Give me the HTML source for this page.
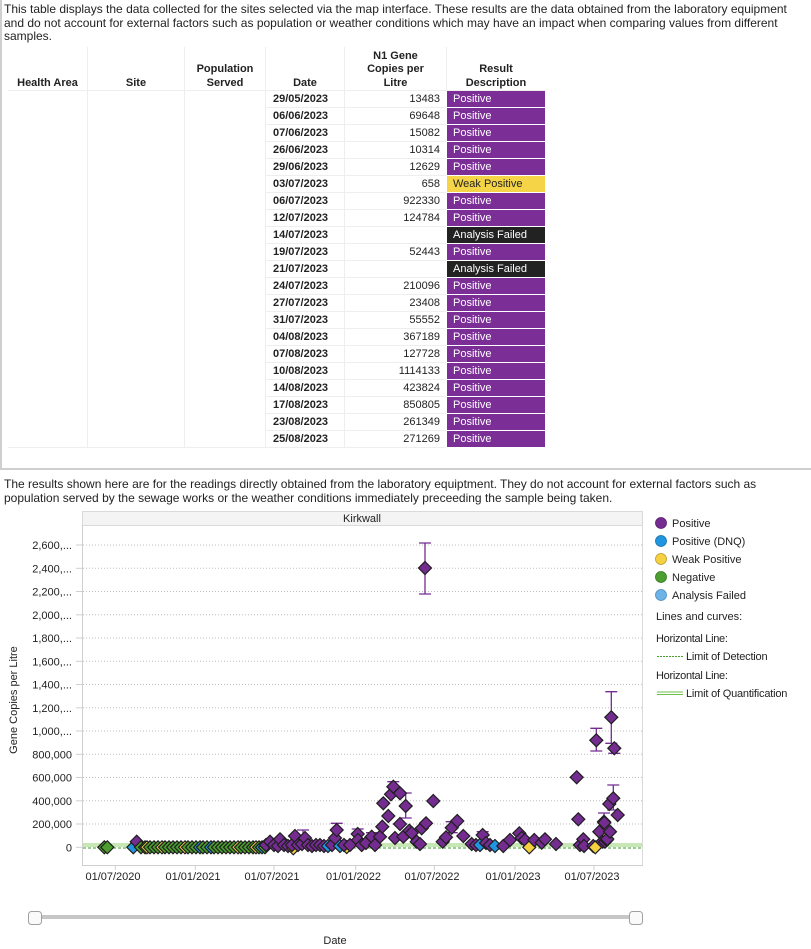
<!DOCTYPE html>
<html><head><meta charset="utf-8">
<style>
*{box-sizing:content-box}
html,body{margin:0;padding:0;background:#fff}
body{width:811px;height:949px;overflow:hidden;position:relative;font-family:"Liberation Sans",Arial,sans-serif;color:#222}
.p{position:absolute;font-size:12px;line-height:13.5px;color:#222}
.panel{position:absolute;left:0;top:0;width:811px;height:470px;border-left:2px solid #cfcfcf;border-bottom:2px solid #cfcfcf;box-sizing:border-box}
table{position:absolute;left:8px;top:47px;border-collapse:separate;border-spacing:0;table-layout:fixed;width:537px;font-size:11px}
th{font-weight:bold;line-height:13.5px;vertical-align:bottom;padding:0 2px 0;text-align:center;border-left:1px solid #eee;border-bottom:1px solid #eee;height:43px}
th.f{border-left:none}
td{height:16px;padding:0;line-height:16px;border-bottom:1px solid #eee;border-left:1px solid #eee;white-space:nowrap}
td.f{border-left:none}
td.d{font-weight:bold;padding-left:7px}
td.n{text-align:right;padding-right:6px}
td.r{background:#7a2e96;color:#fff;border-bottom:1px solid #fff;border-left:1px solid #fff;padding-left:6px}
td.w{background:#f5d547;color:#222;border-bottom:1px solid #fff;border-left:1px solid #fff;padding-left:6px}
td.a{background:#222;color:#fff;border-bottom:1px solid #fff;border-left:1px solid #fff;padding-left:6px}
svg{position:absolute;left:0;top:0}
svg text{font-family:"Liberation Sans",Arial,sans-serif;font-size:11px;fill:#222}
.g{fill:#4c9f2e}.y{fill:#f5d142}.b{fill:#2196e0}.u{fill:#742c90}
</style></head><body>
<div class="panel"></div>
<div class="p" style="left:4px;top:3px;width:806px">This table displays the data collected for the sites selected via the map interface. These results are the data obtained from the laboratory equipment and do not account for external factors such as population or weather conditions which may have an impact when comparing values from different samples.</div>

<table>
<colgroup><col style="width:79px"><col style="width:97px"><col style="width:81px"><col style="width:79px"><col style="width:102px"><col style="width:99px"></colgroup>
<tr><th class="f">Health Area</th><th>Site</th><th>Population<br>Served</th><th>Date</th><th>N1 Gene<br>Copies per<br>Litre</th><th>Result<br>Description</th></tr>
<tr><td class="f" rowspan="21"></td><td rowspan="21"></td><td rowspan="21"></td><td class="d">29/05/2023</td><td class="n">13483</td><td class="r">Positive</td></tr>
<tr><td class="d">06/06/2023</td><td class="n">69648</td><td class="r">Positive</td></tr>
<tr><td class="d">07/06/2023</td><td class="n">15082</td><td class="r">Positive</td></tr>
<tr><td class="d">26/06/2023</td><td class="n">10314</td><td class="r">Positive</td></tr>
<tr><td class="d">29/06/2023</td><td class="n">12629</td><td class="r">Positive</td></tr>
<tr><td class="d">03/07/2023</td><td class="n">658</td><td class="w">Weak Positive</td></tr>
<tr><td class="d">06/07/2023</td><td class="n">922330</td><td class="r">Positive</td></tr>
<tr><td class="d">12/07/2023</td><td class="n">124784</td><td class="r">Positive</td></tr>
<tr><td class="d">14/07/2023</td><td class="n"></td><td class="a">Analysis Failed</td></tr>
<tr><td class="d">19/07/2023</td><td class="n">52443</td><td class="r">Positive</td></tr>
<tr><td class="d">21/07/2023</td><td class="n"></td><td class="a">Analysis Failed</td></tr>
<tr><td class="d">24/07/2023</td><td class="n">210096</td><td class="r">Positive</td></tr>
<tr><td class="d">27/07/2023</td><td class="n">23408</td><td class="r">Positive</td></tr>
<tr><td class="d">31/07/2023</td><td class="n">55552</td><td class="r">Positive</td></tr>
<tr><td class="d">04/08/2023</td><td class="n">367189</td><td class="r">Positive</td></tr>
<tr><td class="d">07/08/2023</td><td class="n">127728</td><td class="r">Positive</td></tr>
<tr><td class="d">10/08/2023</td><td class="n">1114133</td><td class="r">Positive</td></tr>
<tr><td class="d">14/08/2023</td><td class="n">423824</td><td class="r">Positive</td></tr>
<tr><td class="d">17/08/2023</td><td class="n">850805</td><td class="r">Positive</td></tr>
<tr><td class="d">23/08/2023</td><td class="n">261349</td><td class="r">Positive</td></tr>
<tr><td class="d">25/08/2023</td><td class="n">271269</td><td class="r">Positive</td></tr>
</table>

<div class="p" style="left:4px;top:477px;width:806px;line-height:14px">The results shown here are for the readings directly obtained from the laboratory equiptment. They do not account for external factors such as population served by the sewage works or the weather conditions immediately preceeding the sample being taken.</div>

<svg width="811" height="949" viewBox="0 0 811 949">
<defs>
<path id="d" d="M0-6.5 6.5 0 0 6.5-6.5 0Z" stroke="#1e1e1e" stroke-width="1.2"/>
</defs>
<rect x="82.5" y="511.5" width="560" height="14" fill="#f4f4f4" stroke="#dadada"/>
<text x="362" y="522" text-anchor="middle">Kirkwall</text>
<line x1="82.5" y1="525" x2="82.5" y2="865.5" stroke="#cfcfcf"/>
<line x1="642.5" y1="525" x2="642.5" y2="865.5" stroke="#dadada"/>
<line x1="82" y1="865.5" x2="643" y2="865.5" stroke="#cfcfcf"/>
<g stroke="#bdbdbd" stroke-dasharray="1,2">
<line x1="83" y1="545" x2="642" y2="545"/><line x1="83" y1="568.3" x2="642" y2="568.3"/>
<line x1="83" y1="591.5" x2="642" y2="591.5"/><line x1="83" y1="614.8" x2="642" y2="614.8"/>
<line x1="83" y1="638" x2="642" y2="638"/><line x1="83" y1="661.3" x2="642" y2="661.3"/>
<line x1="83" y1="684.5" x2="642" y2="684.5"/><line x1="83" y1="707.8" x2="642" y2="707.8"/>
<line x1="83" y1="731" x2="642" y2="731"/><line x1="83" y1="754.3" x2="642" y2="754.3"/>
<line x1="83" y1="777.5" x2="642" y2="777.5"/><line x1="83" y1="800.8" x2="642" y2="800.8"/>
<line x1="83" y1="824" x2="642" y2="824"/>
</g>
<g stroke="#cfcfcf">
<line x1="76" y1="545" x2="82" y2="545"/><line x1="76" y1="568.3" x2="82" y2="568.3"/>
<line x1="76" y1="591.5" x2="82" y2="591.5"/><line x1="76" y1="614.8" x2="82" y2="614.8"/>
<line x1="76" y1="638" x2="82" y2="638"/><line x1="76" y1="661.3" x2="82" y2="661.3"/>
<line x1="76" y1="684.5" x2="82" y2="684.5"/><line x1="76" y1="707.8" x2="82" y2="707.8"/>
<line x1="76" y1="731" x2="82" y2="731"/><line x1="76" y1="754.3" x2="82" y2="754.3"/>
<line x1="76" y1="777.5" x2="82" y2="777.5"/><line x1="76" y1="800.8" x2="82" y2="800.8"/>
<line x1="76" y1="824" x2="82" y2="824"/><line x1="76" y1="847.3" x2="82" y2="847.3"/>
</g>
<g text-anchor="end">
<text x="72" y="549">2,600,...</text><text x="72" y="572.3">2,400,...</text>
<text x="72" y="595.5">2,200,...</text><text x="72" y="618.8">2,000,...</text>
<text x="72" y="642">1,800,...</text><text x="72" y="665.3">1,600,...</text>
<text x="72" y="688.5">1,400,...</text><text x="72" y="711.8">1,200,...</text>
<text x="72" y="735">1,000,...</text><text x="72" y="758.3">800,000</text>
<text x="72" y="781.5">600,000</text><text x="72" y="804.8">400,000</text>
<text x="72" y="828">200,000</text><text x="72" y="851.3">0</text>
</g>
<text transform="translate(17,700) rotate(-90)" text-anchor="middle">Gene Copies per Litre</text>
<g stroke="#cfcfcf">
<line x1="115.3" y1="866" x2="115.3" y2="870"/><line x1="195.3" y1="866" x2="195.3" y2="870"/>
<line x1="274" y1="866" x2="274" y2="870"/><line x1="355.7" y1="866" x2="355.7" y2="870"/>
<line x1="434.3" y1="866" x2="434.3" y2="870"/><line x1="515" y1="866" x2="515" y2="870"/>
<line x1="594" y1="866" x2="594" y2="870"/>
</g>
<g text-anchor="middle">
<text x="113" y="880">01/07/2020</text><text x="193" y="880">01/01/2021</text>
<text x="272" y="880">01/07/2021</text><text x="353.5" y="880">01/01/2022</text>
<text x="432" y="880">01/07/2022</text><text x="513" y="880">01/01/2023</text>
<text x="592" y="880">01/07/2023</text>
</g>
<line x1="83" y1="844" x2="642" y2="844" stroke="#8fd16a" stroke-width="1"/>
<line x1="83" y1="846" x2="642" y2="846" stroke="#8fd16a" stroke-width="1"/>
<line x1="83" y1="848" x2="642" y2="848" stroke="#3b9a2b" stroke-width="1" stroke-dasharray="3,2"/>
<g stroke="#742c90" stroke-width="1.3" fill="none">
<path d="M425 543V594M419 543H431M419 594H431"/>
<path d="M596.3 728.3V751M590.3 728.3H602.3M590.3 751H602.3"/>
<path d="M611.3 691.7V743.3M605.3 691.7H617.3M605.3 743.3H617.3"/>
<path d="M614.3 753.3V748M608.3 753.3H620.3"/>
<path d="M613.3 785V810M607.3 785H619.3M607.3 810H619.3"/>
<path d="M393.3 781.7V792M387.3 781.7H399.3"/>
<path d="M405.7 793V818M399.7 793H411.7M399.7 818H411.7"/>
<path d="M451.7 821.7V832.7M445.7 821.7H457.7M445.7 832.7H457.7"/>
<path d="M482.7 831.7V838M476.7 831.7H488.7"/>
<path d="M357.7 829V838M351.7 829H363.7"/>
<path d="M372 832.7V840M366 832.7H378"/>
<path d="M604 813V829M598 813H610"/>
<path d="M303 830V842M297 830H309"/>
<path d="M336.7 823.3V838M330.7 823.3H342.7"/>
</g>
<g>
<use href="#d" x="104.3" y="847.3" class="g"/><use href="#d" x="107.3" y="847.3" class="g"/>
<use href="#d" x="133.3" y="847.3" class="b"/><use href="#d" x="136.7" y="841.7" class="u"/>
<use href="#d" x="141" y="847.3" class="g"/><use href="#d" x="145" y="847.3" class="g"/>
<use href="#d" x="147" y="847.3" class="y"/><use href="#d" x="150" y="847.3" class="g"/>
<use href="#d" x="154" y="847.3" class="g"/><use href="#d" x="158" y="847.3" class="g"/>
<use href="#d" x="162" y="847.3" class="y"/><use href="#d" x="165" y="847.3" class="g"/>
<use href="#d" x="169" y="847.3" class="g"/><use href="#d" x="173" y="847.3" class="g"/>
<use href="#d" x="177" y="847.3" class="g"/><use href="#d" x="181" y="847.3" class="g"/>
<use href="#d" x="185" y="847.3" class="y"/><use href="#d" x="188" y="847.3" class="g"/>
<use href="#d" x="192" y="847.3" class="g"/><use href="#d" x="196" y="847.3" class="g"/>
<use href="#d" x="200" y="847.3" class="b"/><use href="#d" x="203" y="847.3" class="g"/>
<use href="#d" x="207" y="847.3" class="g"/><use href="#d" x="211" y="847.3" class="b"/>
<use href="#d" x="214" y="847.3" class="g"/><use href="#d" x="218" y="847.3" class="g"/>
<use href="#d" x="222" y="847.3" class="g"/><use href="#d" x="226" y="847.3" class="g"/>
<use href="#d" x="230" y="847.3" class="g"/><use href="#d" x="234" y="847.3" class="g"/>
<use href="#d" x="238" y="847.3" class="y"/><use href="#d" x="241" y="847.3" class="g"/>
<use href="#d" x="245" y="847.3" class="g"/><use href="#d" x="249" y="847.3" class="g"/>
<use href="#d" x="253" y="847.3" class="g"/><use href="#d" x="256" y="847.3" class="y"/>
<use href="#d" x="259" y="847.3" class="g"/><use href="#d" x="262" y="847.3" class="b"/>
<use href="#d" x="265" y="847.3" class="g"/>
<use href="#d" x="266" y="845" class="u"/><use href="#d" x="270" y="841.7" class="u"/>
<use href="#d" x="274" y="845" class="u"/><use href="#d" x="278" y="846" class="u"/>
<use href="#d" x="280" y="839.3" class="u"/><use href="#d" x="284" y="845" class="u"/>
<use href="#d" x="288" y="846" class="u"/><use href="#d" x="293.3" y="848.3" class="y"/>
<use href="#d" x="292" y="845" class="u"/><use href="#d" x="295" y="836" class="u"/>
<use href="#d" x="298" y="845" class="u"/><use href="#d" x="302" y="844" class="u"/>
<use href="#d" x="305" y="838" class="u"/><use href="#d" x="308" y="845" class="u"/>
<use href="#d" x="312" y="846" class="u"/><use href="#d" x="316" y="845" class="u"/>
<use href="#d" x="320" y="845" class="u"/><use href="#d" x="324" y="846" class="u"/>
<use href="#d" x="328" y="846" class="b"/><use href="#d" x="332" y="845" class="u"/>
<use href="#d" x="335" y="838" class="u"/><use href="#d" x="336.7" y="830" class="u"/>
<use href="#d" x="340" y="846" class="b"/><use href="#d" x="346.7" y="847" class="y"/>
<use href="#d" x="344" y="845" class="u"/><use href="#d" x="350" y="845" class="u"/>
<use href="#d" x="357.7" y="834" class="u"/><use href="#d" x="358" y="840" class="u"/>
<use href="#d" x="361.7" y="845" class="u"/><use href="#d" x="366" y="843" class="u"/>
<use href="#d" x="371.7" y="836.7" class="u"/><use href="#d" x="375" y="845" class="u"/>
<use href="#d" x="380" y="836.7" class="u"/><use href="#d" x="382.3" y="826.7" class="u"/>
<use href="#d" x="383.3" y="803.3" class="u"/><use href="#d" x="388.3" y="816" class="u"/>
<use href="#d" x="391" y="794.3" class="u"/><use href="#d" x="393.3" y="786.7" class="u"/>
<use href="#d" x="400" y="793.3" class="u"/><use href="#d" x="405.7" y="806" class="u"/>
<use href="#d" x="400" y="824" class="u"/><use href="#d" x="395" y="838" class="u"/>
<use href="#d" x="403.3" y="836.7" class="u"/><use href="#d" x="409.3" y="830.7" class="u"/>
<use href="#d" x="411.7" y="833" class="u"/><use href="#d" x="416.7" y="841.7" class="u"/>
<use href="#d" x="420" y="844" class="u"/><use href="#d" x="421.7" y="828.3" class="u"/>
<use href="#d" x="426" y="823.3" class="u"/><use href="#d" x="433.3" y="801" class="u"/>
<use href="#d" x="425" y="568" class="u"/>
<use href="#d" x="442.7" y="841.7" class="u"/><use href="#d" x="446" y="837.3" class="u"/>
<use href="#d" x="451.7" y="827.7" class="u"/><use href="#d" x="457.3" y="821" class="u"/>
<use href="#d" x="463.3" y="836" class="u"/><use href="#d" x="471.7" y="844" class="u"/>
<use href="#d" x="476" y="845" class="u"/><use href="#d" x="480" y="845" class="b"/>
<use href="#d" x="482.7" y="835" class="u"/><use href="#d" x="486" y="843" class="u"/>
<use href="#d" x="490" y="845" class="u"/><use href="#d" x="495" y="846" class="b"/>
<use href="#d" x="503.3" y="846" class="u"/><use href="#d" x="510" y="840" class="u"/>
<use href="#d" x="519.3" y="833.3" class="u"/><use href="#d" x="521.7" y="838" class="u"/>
<use href="#d" x="525" y="840" class="u"/><use href="#d" x="529.3" y="847.3" class="y"/>
<use href="#d" x="534.3" y="840" class="u"/><use href="#d" x="541.7" y="842.7" class="u"/>
<use href="#d" x="545" y="839.3" class="u"/><use href="#d" x="556" y="844" class="u"/>
<use href="#d" x="576.7" y="777.3" class="u"/><use href="#d" x="578.3" y="819.3" class="u"/>
<use href="#d" x="580" y="845" class="u"/><use href="#d" x="583.3" y="839.3" class="u"/>
<use href="#d" x="584" y="846" class="u"/><use href="#d" x="593.3" y="846" class="u"/>
<use href="#d" x="595.3" y="847.3" class="y"/>
<use href="#d" x="599.3" y="831.7" class="u"/><use href="#d" x="604" y="821.7" class="u"/>
<use href="#d" x="602.3" y="841.7" class="u"/><use href="#d" x="605" y="841.7" class="u"/>
<use href="#d" x="606.7" y="840" class="u"/><use href="#d" x="607.3" y="839" class="u"/>
<use href="#d" x="604.3" y="822.7" class="u"/><use href="#d" x="610" y="831.7" class="u"/>
<use href="#d" x="609.3" y="804" class="u"/><use href="#d" x="613.3" y="798.3" class="u"/>
<use href="#d" x="617.7" y="815" class="u"/>
<use href="#d" x="596.3" y="740.3" class="u"/><use href="#d" x="611.3" y="717.3" class="u"/>
<use href="#d" x="614.3" y="748.3" class="u"/>
</g>
<circle cx="661" cy="523" r="5.5" fill="#742c90" stroke="#5a1f70" stroke-width="0.8"/>
<circle cx="661" cy="541" r="5.5" fill="#2196e0" stroke="#1a70a8" stroke-width="0.8"/>
<circle cx="661" cy="559" r="5.5" fill="#f5d142" stroke="#b89b2a" stroke-width="0.8"/>
<circle cx="661" cy="577" r="5.5" fill="#4c9f2e" stroke="#357520" stroke-width="0.8"/>
<circle cx="661" cy="595" r="5.5" fill="#6cb4e8" stroke="#4a8ab8" stroke-width="0.8"/>
<text x="672" y="527">Positive</text>
<text x="672" y="545">Positive (DNQ)</text>
<text x="672" y="563">Weak Positive</text>
<text x="672" y="581">Negative</text>
<text x="672" y="599">Analysis Failed</text>
<text x="656" y="620">Lines and curves:</text>
<text x="656" y="642" style="letter-spacing:-0.3px">Horizontal Line:</text>
<line x1="657" y1="656.5" x2="683" y2="656.5" stroke="#4aa02c" stroke-dasharray="2,1"/>
<text x="686" y="660" style="letter-spacing:-0.2px">Limit of Detection</text>
<text x="656" y="679" style="letter-spacing:-0.3px">Horizontal Line:</text>
<line x1="657" y1="692" x2="683" y2="692" stroke="#6cc04a"/>
<line x1="657" y1="694.5" x2="683" y2="694.5" stroke="#6cc04a"/>
<text x="686" y="697" style="letter-spacing:-0.2px">Limit of Quantification</text>
<rect x="35" y="915" width="600" height="4" fill="#c6c6c6"/>
<rect x="28.5" y="911.5" width="13" height="13" rx="3" fill="#fafafa" stroke="#a0a0a0"/>
<rect x="629.5" y="911.5" width="13" height="13" rx="3" fill="#fafafa" stroke="#a0a0a0"/>
<text x="335" y="944" text-anchor="middle">Date</text>
</svg>
</body></html>
